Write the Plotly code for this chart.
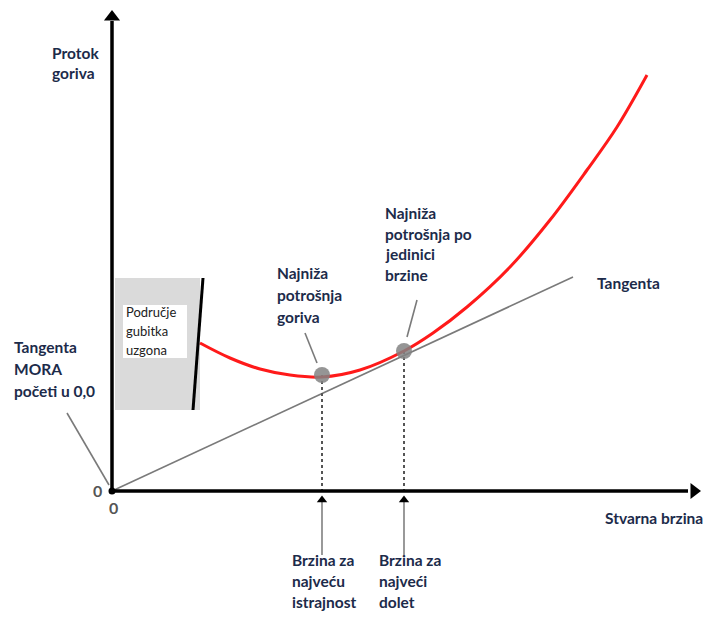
import plotly.graph_objects as go

# ---- data (arbitrary units: speed on x, fuel flow on y) ----
speed = [8.8, 11.8, 14.8, 17.8, 21.0, 24.8, 29.2, 32.1, 35.5, 39.8, 43.8, 47.5, 50.5, 53.5]
fuel_flow = [14.8, 13.3, 12.2, 11.6, 11.4, 12.1, 14.0, 15.8, 18.4, 22.4, 27.1, 32.1, 36.4, 41.6]

tangent_speed = [0.0, 46.1]
tangent_flow = [0.0, 21.4]

key_speed = [21.0, 29.2]          # max endurance, max range
key_flow = [11.6, 14.0]

stall_speed_top = [9.1, 21.3]     # boundary of lift-loss region (speed, flow)
stall_speed_bottom = [8.1, 8.1]
stall_region_x = [0.3, 8.8]
stall_region_y = [8.1, 21.3]

X_RANGE = [-11.2, 59.7]
Y_RANGE = [-12.6, 49.1]

TXT = "#1c2b4a"
FONT = "Lato"

fig = go.Figure()

# lift-loss shaded region
fig.add_shape(type="rect", x0=stall_region_x[0], x1=stall_region_x[1],
              y0=stall_region_y[0], y1=stall_region_y[1],
              fillcolor="#dadada", line=dict(width=0), layer="below")
fig.add_shape(type="rect", x0=1.1, x1=7.5, y0=13.3, y1=18.6,
              fillcolor="white", line=dict(width=0), layer="below")

# tangent line
fig.add_trace(go.Scatter(x=tangent_speed, y=tangent_flow, mode="lines",
                         line=dict(color="#7a7a7a", width=1.6), hoverinfo="skip"))

# dotted verticals from key points to axis
for xs, ys in zip(key_speed, key_flow):
    fig.add_trace(go.Scatter(x=[xs, xs], y=[ys, 0], mode="lines",
                             line=dict(color="#555555", width=2, dash="dot"), hoverinfo="skip"))

# fuel flow curve
fig.add_trace(go.Scatter(x=speed, y=fuel_flow, mode="lines",
                         line=dict(color="#ff1a1a", width=3, shape="spline", smoothing=1.0),
                         hoverinfo="skip"))

# stall boundary line
fig.add_trace(go.Scatter(x=[stall_speed_top[0], stall_speed_bottom[0]],
                         y=[stall_speed_top[1], stall_speed_bottom[1]], mode="lines",
                         line=dict(color="black", width=3), hoverinfo="skip"))

# key points
fig.add_trace(go.Scatter(x=key_speed, y=key_flow, mode="markers",
                         marker=dict(color="rgba(130,130,130,0.85)", size=16, line=dict(width=0)),
                         hoverinfo="skip"))

# axes with arrowheads
fig.add_trace(go.Scatter(x=[0, 0], y=[0, 47.0], mode="lines",
                         line=dict(color="black", width=3.5), hoverinfo="skip"))
fig.add_trace(go.Scatter(x=[0, 57.6], y=[0, 0], mode="lines",
                         line=dict(color="black", width=3.5), hoverinfo="skip"))
fig.add_trace(go.Scatter(x=[0], y=[47.4], mode="markers",
                         marker=dict(symbol="triangle-up", color="black", size=14), hoverinfo="skip"))
fig.add_trace(go.Scatter(x=[58.2], y=[0], mode="markers",
                         marker=dict(symbol="triangle-right", color="black", size=14), hoverinfo="skip"))
fig.add_trace(go.Scatter(x=[0], y=[0], mode="markers",
                         marker=dict(color="black", size=7), hoverinfo="skip"))

# upward arrows beneath axis
for xs in key_speed:
    fig.add_trace(go.Scatter(x=[xs, xs], y=[-6.4, -0.8], mode="lines",
                             line=dict(color="#808080", width=1.6), hoverinfo="skip"))
    fig.add_trace(go.Scatter(x=[xs], y=[-0.9], mode="markers",
                             marker=dict(symbol="triangle-up", color="black", size=9), hoverinfo="skip"))

# leader lines
leaders = [
    ((-4.5, 7.8), (-0.3, 0.6)),
    ((19.3, 15.8), (20.5, 12.8)),
    ((30.5, 19.1), (29.5, 15.4)),
]
for (xa, ya), (xb, yb) in leaders:
    fig.add_shape(type="line", x0=xa, y0=ya, x1=xb, y1=yb,
                  line=dict(color="#7a7a7a", width=1.6))


def text_block(lines, x, y0, step, size=15.5, color=TXT, bold=True):
    for i, t in enumerate(lines):
        fig.add_annotation(x=x, y=y0 - i * step, text=f"<b>{t}</b>" if bold else t,
                           showarrow=False, xanchor="left", yanchor="middle",
                           font=dict(family=FONT, size=size, color=color))


text_block(["Protok", "goriva"], -6.2, 43.8, 2.0)
text_block(["Tangenta", "MORA", "početi u 0,0"], -10.0, 14.4, 2.2)
text_block(["Područje", "gubitka", "uzgona"], 1.2, 17.9, 1.9, size=13, bold=False, color="#222222")
text_block(["Najniža", "potrošnja", "goriva"], 16.3, 21.8, 2.2)
text_block(["Najniža", "potrošnja po", "jedinici", "brzine"], 27.1, 27.8, 2.07)
text_block(["Tangenta"], 48.3, 20.8, 2.0)
text_block(["Stvarna brzina"], 49.1, -2.7, 2.0)
text_block(["Brzina za", "najveću", "istrajnost"], 17.8, -6.9, 2.1)
text_block(["Brzina za", "najveći", "dolet"], 26.5, -6.9, 2.1)

fig.add_annotation(x=-1.5, y=0.1, text="<b>0</b>", showarrow=False, xanchor="center",
                   yanchor="middle", font=dict(family=FONT, size=16, color="#555555"))
fig.add_annotation(x=0.1, y=-1.6, text="<b>0</b>", showarrow=False, xanchor="center",
                   yanchor="middle", font=dict(family=FONT, size=16, color="#555555"))

fig.update_layout(
    width=709, height=617,
    margin=dict(l=0, r=0, t=0, b=0),
    paper_bgcolor="white", plot_bgcolor="white",
    showlegend=False,
    xaxis=dict(range=X_RANGE, visible=False, fixedrange=True),
    yaxis=dict(range=Y_RANGE, visible=False, fixedrange=True),
)

fig.write_html("out.html", config={"displayModeBar": False},
               post_script="document.body.style.margin='0px';document.body.style.overflow='hidden';")
